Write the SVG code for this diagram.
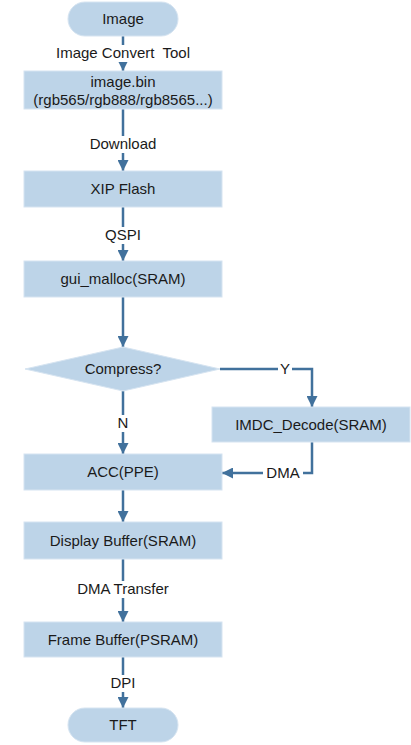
<svg xmlns="http://www.w3.org/2000/svg" width="411" height="745" viewBox="0 0 411 745">
<style>
.n{fill:#BDD4E8;stroke:#D6E4F1;stroke-width:1}
.t{font-family:"Liberation Sans",Arial,sans-serif;font-size:15px;fill:#1a1a1a;text-anchor:middle;white-space:pre}
.c{fill:none;stroke:#41719C;stroke-width:2.5}
.bg{fill:#fff}
</style>
<defs>
<marker id="a" markerWidth="4.4" markerHeight="4.4" refX="4.4" refY="2.2" orient="auto" markerUnits="strokeWidth">
<path d="M0,0 L4.4,2.2 L0,4.4 Z" fill="#41719C"/>
</marker>
</defs>
<rect width="411" height="745" fill="#fff"/>
<g id="connectors">
<path class="c" d="M123,36 V71" marker-end="url(#a)"/>
<path class="c" d="M123,109 V171" marker-end="url(#a)"/>
<path class="c" d="M123,207 V261" marker-end="url(#a)"/>
<path class="c" d="M123,297 V347" marker-end="url(#a)"/>
<path class="c" d="M220,369 H312 V407" marker-end="url(#a)"/>
<path class="c" d="M123,391 V454" marker-end="url(#a)"/>
<path class="c" d="M312,442 V473 H222" marker-end="url(#a)"/>
<path class="c" d="M123,490 V522" marker-end="url(#a)"/>
<path class="c" d="M123,559 V622" marker-end="url(#a)"/>
<path class="c" d="M123,657 V708" marker-end="url(#a)"/>
<rect class="bg" x="48" y="45" width="150" height="17"/>
<text class="t" x="123" y="58" xml:space="preserve">Image Convert  Tool</text>
<rect class="bg" x="84" y="136" width="78" height="17"/>
<text class="t" x="123" y="149">Download</text>
<rect class="bg" x="104" y="227" width="38" height="17"/>
<text class="t" x="123" y="240">QSPI</text>
<rect class="bg" x="278" y="361" width="14" height="17"/>
<text class="t" x="285" y="374">Y</text>
<rect class="bg" x="116" y="415" width="14" height="17"/>
<text class="t" x="123" y="428">N</text>
<rect class="bg" x="263" y="465" width="40" height="17"/>
<text class="t" x="283" y="478">DMA</text>
<rect class="bg" x="70" y="581" width="106" height="17"/>
<text class="t" x="123" y="594">DMA Transfer</text>
<rect class="bg" x="110" y="675" width="26" height="17"/>
<text class="t" x="123" y="688">DPI</text>
</g>
<g id="image"><rect class="n" x="68" y="2" width="110" height="34" rx="17"/><text class="t" x="123" y="24">Image</text></g>
<g id="imagebin"><rect class="n" x="24" y="71" width="198" height="38"/><text class="t" x="123" y="87">image.bin</text><text class="t" x="123" y="105">(rgb565/rgb888/rgb8565...)</text></g>
<g id="xip"><rect class="n" x="24" y="171" width="198" height="36"/><text class="t" x="123" y="194">XIP Flash</text></g>
<g id="malloc"><rect class="n" x="24" y="261" width="198" height="36"/><text class="t" x="123" y="284">gui_malloc(SRAM)</text></g>
<g id="compress"><polygon class="n" points="25,369 123,347 220,369 123,391"/><text class="t" x="123" y="374">Compress?</text></g>
<g id="imdc"><rect class="n" x="212" y="407" width="198" height="35"/><text class="t" x="311" y="430">IMDC_Decode(SRAM)</text></g>
<g id="acc"><rect class="n" x="24" y="454" width="198" height="36"/><text class="t" x="123" y="477">ACC(PPE)</text></g>
<g id="display"><rect class="n" x="24" y="522" width="198" height="37"/><text class="t" x="123" y="546">Display Buffer(SRAM)</text></g>
<g id="frame"><rect class="n" x="24" y="622" width="198" height="35"/><text class="t" x="123" y="645">Frame Buffer(PSRAM)</text></g>
<g id="tft"><rect class="n" x="68" y="708" width="110" height="34" rx="17"/><text class="t" x="123" y="730">TFT</text></g>
</svg>
